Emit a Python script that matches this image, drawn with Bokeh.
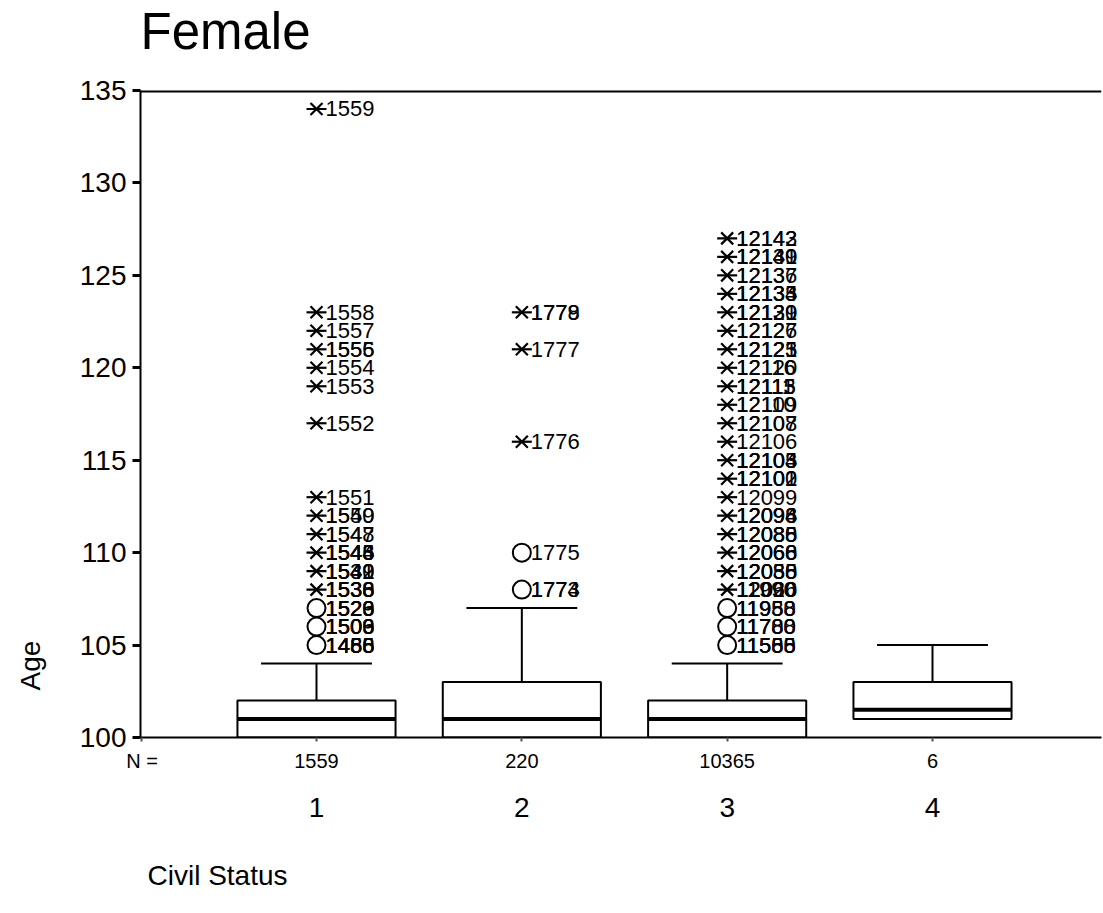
from bokeh.plotting import figure
from bokeh.models import (ColumnDataSource, Range1d, FixedTicker, LabelSet, Span,
                          LinearAxis, Title)
from bokeh.core.properties import value
from bokeh.embed import file_html
from bokeh.resources import INLINE

# ---------------- data ----------------
title_text = "Female"
x_title = "Civil Status"
y_title = "Age"
n_label = "N ="
categories = [1, 2, 3, 4]
cat_labels = ["1", "2", "3", "4"]
n_counts = ["1559", "220", "10365", "6"]
q1 = [100, 100, 100, 101]
median = [101, 101, 101, 101.5]
q3 = [102, 103, 102, 103]
upper_whisker = [104, 107, 104, 105]
y_ticks = [100, 105, 110, 115, 120, 125, 130, 135]

# outliers (circles): group, value, overlapping case labels
circle_group = [1, 1, 1, 2, 2, 3, 3, 3]
circle_value = [105, 106, 107, 108, 110, 105, 106, 107]
circle_ids = [
    ["1455", "1466", "1480", "1488"],
    ["1500", "1503", "1506", "1509"],
    ["1520", "1523", "1526", "1529"],
    ["1773", "1774"],
    ["1775"],
    ["11500", "11555", "11588"],
    ["11700", "11780", "11788"],
    ["11950", "11958", "11988"],
]

# extremes (asterisks): group, value, overlapping case labels
star_group = [1] * 13 + [2] * 3 + [3] * 20
star_value = [108, 109, 110, 111, 112, 113, 117, 119, 120, 121, 122, 123, 134,
              116, 121, 123,
              108, 109, 110, 111, 112, 113, 114, 115, 116, 117, 118, 119, 120,
              121, 122, 123, 124, 125, 126, 127]
star_ids = [
    ["1530", "1533", "1536", "1538"], ["1539", "1540", "1541", "1542"],
    ["1543", "1544", "1545", "1546"], ["1547", "1548"], ["1549", "1550"],
    ["1551"], ["1552"], ["1553"], ["1554"], ["1555", "1556"], ["1557"],
    ["1558"], ["1559"],
    ["1776"], ["1777"], ["1778", "1779"],
    ["11990", "12020", "12066"], ["12030", "12055", "12088"],
    ["12060", "12066", "12068"], ["12080", "12085", "12088"],
    ["12094", "12096", "12098"], ["12099"], ["12100", "12101", "12102"],
    ["12103", "12104", "12105"], ["12106"], ["12107", "12108"],
    ["12109", "12110"], ["12111", "12113", "12115"], ["12116", "12120"],
    ["12121", "12123", "12125"], ["12126", "12127"],
    ["12129", "12130", "12131"], ["12133", "12134", "12135"],
    ["12136", "12137"], ["12139", "12140", "12141"], ["12142", "12143"],
]

# ---------------- layout ----------------
FONT = "Liberation Sans"
W, H = 1103, 913
L, R, T, B = 140, 2, 90, 176
px_per_unit = 616 / 3.0
X0 = 1 - 176 / px_per_unit
X1 = X0 + (W - L - R) / px_per_unit
Y0, Y1 = 100, 135
N_POS = 0.15  # position of the "N =" caption on the count axis

p = figure(width=W, height=H, output_backend="svg", toolbar_location=None,
           x_range=Range1d(X0, X1), y_range=Range1d(Y0, Y1),
           min_border_left=L, min_border_right=R, min_border_top=T,
           min_border_bottom=B, background_fill_color="white",
           border_fill_color="white", title_location=None)
p.outline_line_color = None
p.grid.visible = False

# y axis
p.yaxis.ticker = FixedTicker(ticks=y_ticks)
p.yaxis.axis_line_width = 2
p.yaxis.major_tick_line_width = 3
p.yaxis.major_tick_out = 8
p.yaxis.major_tick_in = 0
p.yaxis.minor_tick_line_color = None
p.yaxis.major_label_text_font = FONT
p.yaxis.major_label_text_font_size = "28px"
p.yaxis.major_label_text_color = "black"
p.yaxis.major_label_standoff = 6

# x axis: counts
overrides = {c: n for c, n in zip(categories, n_counts)}
overrides[N_POS] = n_label
p.xaxis.ticker = FixedTicker(ticks=[N_POS] + categories)
p.xaxis.major_label_overrides = overrides
p.xaxis.axis_line_width = 2
p.xaxis.major_tick_line_width = 2
p.xaxis.major_tick_line_color = "#555555"
p.xaxis.major_tick_out = 4
p.xaxis.major_tick_in = 0
p.xaxis.minor_tick_line_color = None
p.xaxis.major_label_text_font = FONT
p.xaxis.major_label_text_font_size = "20px"
p.xaxis.major_label_text_color = "black"
p.xaxis.major_label_standoff = 8

# second x axis: category labels
cat_axis = LinearAxis(ticker=FixedTicker(ticks=categories),
                      major_label_overrides={c: t for c, t in zip(categories, cat_labels)},
                      axis_line_color=None, major_tick_line_color=None,
                      minor_tick_line_color=None, major_tick_out=0, major_tick_in=0,
                      major_label_text_font=FONT, major_label_text_font_size="28px",
                      major_label_text_color="black", major_label_standoff=23)
p.add_layout(cat_axis, "below")

# titles: an empty line on the frame side pushes each text outward
p.add_layout(Title(text="\n" + x_title, align="left", offset=7, standoff=0,
                   text_font=FONT, text_font_size="28px", text_font_style="normal",
                   text_line_height=1.27, text_color="black"), "below")
p.add_layout(Title(text=y_title + "\n", align="left", offset=47, standoff=0,
                   text_font=FONT, text_font_size="28px", text_font_style="normal",
                   text_line_height=1.0, text_color="black"), "left")
p.add_layout(Title(text=title_text + "\n", align="left", offset=0, standoff=0,
                   text_font=FONT, text_font_size="51px", text_font_style="normal",
                   text_line_height=0.54, text_color="black"), "above")

p.add_layout(Span(location=Y1, dimension="width", line_color="black", line_width=4))

# boxes
half_box = 0.385
half_cap = 0.27
box_src = ColumnDataSource(dict(
    x=categories, q1=q1, q3=q3, med=median, up=upper_whisker,
    bl=[c - half_box for c in categories], br=[c + half_box for c in categories],
    cl=[c - half_cap for c in categories], cr=[c + half_cap for c in categories],
))
p.segment(x0="x", x1="x", y0="q3", y1="up", source=box_src, line_color="black", line_width=2)
p.segment(x0="cl", x1="cr", y0="up", y1="up", source=box_src, line_color="black", line_width=2)
p.quad(left="bl", right="br", bottom="q1", top="q3", source=box_src,
       fill_color="white", line_color="black", line_width=2)
p.segment(x0="bl", x1="br", y0="med", y1="med", source=box_src, line_color="black", line_width=4)

# outlier markers
circ_src = ColumnDataSource(dict(x=circle_group, y=circle_value))
p.scatter(x="x", y="y", source=circ_src, marker="circle", size=18,
          fill_color=None, line_color="black", line_width=2)
star_src = ColumnDataSource(dict(x=star_group, y=star_value))
p.scatter(x="x", y="y", source=star_src, marker="x", size=17,
          line_color="black", line_width=2.2)
p.scatter(x="x", y="y", source=star_src, marker="dash", size=20,
          line_color="black", line_width=2.2)

# outlier labels (overlapping case numbers)
lx, ly, lt = [], [], []
for g, v, ids in list(zip(circle_group, circle_value, circle_ids)) + list(zip(star_group, star_value, star_ids)):
    for i in ids:
        lx.append(g)
        ly.append(v)
        lt.append(i)
lab_src = ColumnDataSource(dict(x=lx, y=ly, t=lt))
p.add_layout(LabelSet(x="x", y="y", text="t", source=lab_src, x_offset=9,
                      text_baseline="middle", text_align="left",
                      text_font=value(FONT), text_font_size="22px", text_color="black"))

open("out.html", "w").write(file_html(p, INLINE))
